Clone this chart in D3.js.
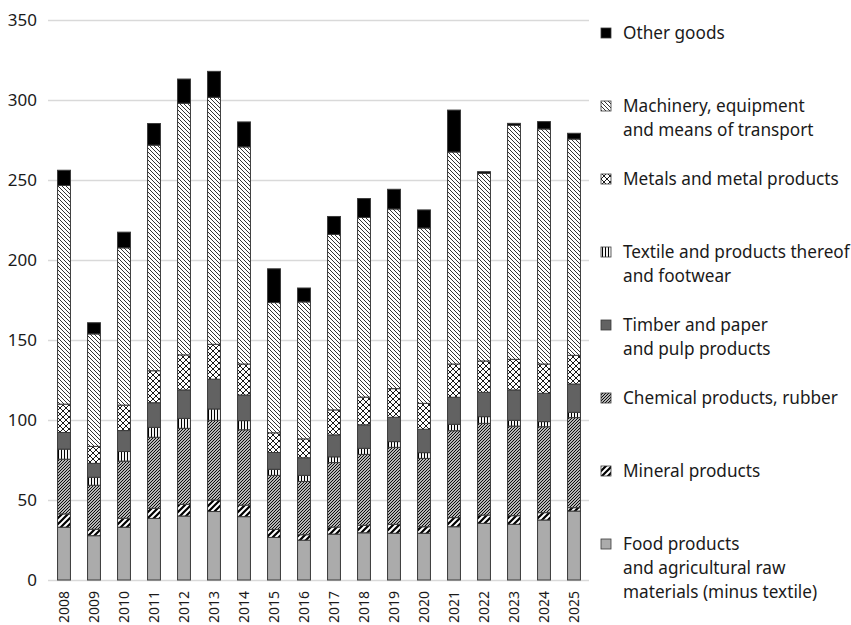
<!DOCTYPE html>
<html>
<head>
<meta charset="utf-8">
<script src="https://cdn.jsdelivr.net/npm/d3@7"></script>
<style>
  body { margin: 0; background: #fff; }
  text { font-family: "Noto Sans", sans-serif; fill: #1a1a1a; }
</style>
</head>
<body>
<svg id="chart" width="851" height="625"></svg>
<script>
const years = ["2008","2009","2010","2011","2012","2013","2014","2015","2016","2017","2018","2019","2020","2021","2022","2023","2024","2025"];

const food      = [33.0, 27.7, 33.0, 38.5, 40.0, 42.8, 39.6, 26.6, 24.9, 28.7, 29.5, 29.2, 29.2, 33.3, 35.4, 34.8, 37.5, 43.1];
const mineral   = [8.3, 4.0, 5.6, 6.3, 7.3, 7.2, 7.2, 5.0, 3.4, 4.4, 4.7, 5.6, 4.1, 5.7, 5.2, 5.4, 4.6, 2.1];
const chemical  = [34.2, 27.5, 35.7, 44.4, 47.5, 49.8, 47.1, 33.8, 33.3, 40.3, 44.3, 48.1, 42.7, 54.3, 57.3, 56.0, 53.7, 56.3];
const textile   = [6.3, 5.0, 6.0, 6.2, 6.2, 7.1, 5.7, 3.8, 3.8, 3.6, 3.8, 3.6, 3.6, 4.0, 4.2, 3.6, 3.2, 3.3];
const timber    = [10.4, 8.7, 13.1, 15.4, 17.8, 18.6, 16.0, 10.5, 11.0, 13.7, 14.7, 15.2, 14.6, 16.9, 15.2, 19.0, 17.7, 17.7];
const metals    = [17.7, 10.6, 15.9, 20.0, 21.9, 21.8, 19.4, 12.3, 11.8, 15.6, 17.3, 17.9, 16.2, 20.8, 19.6, 19.1, 18.3, 17.9];
const machinery = [136.7, 70.3, 98.3, 141.0, 157.3, 154.4, 135.7, 81.4, 85.6, 109.7, 112.3, 112.3, 109.6, 132.5, 117.3, 146.3, 146.9, 135.2];
const other     = [9.5, 7.0, 9.8, 13.5, 15.1, 16.2, 15.6, 21.1, 8.7, 11.2, 11.8, 12.3, 11.3, 26.2, 1.0, 1.2, 4.6, 3.6];

const yTicks = [0, 50, 100, 150, 200, 250, 300, 350];

// bottom to top
const seriesKeys = ["food","mineral","chemical","textile","timber","metals","machinery","other"];
const seriesData = {food, mineral, chemical, textile, timber, metals, machinery, other};

// legend, top to bottom
const legendKeys = ["other","machinery","metals","textile","timber","chemical","mineral","food"];
const legendLabels = {
  other: ["Other goods"],
  machinery: ["Machinery, equipment", "and means of transport"],
  metals: ["Metals and metal products"],
  textile: ["Textile and products thereof", "and footwear"],
  timber: ["Timber and paper", "and pulp products"],
  chemical: ["Chemical products, rubber"],
  mineral: ["Mineral products"],
  food: ["Food products", "and agricultural raw", "materials (minus textile)"]
};

const svg = d3.select("#chart");
const margin = {top: 20, left: 49, right: 589, bottom: 580};

let table = years.map(function(y, i) {
  let row = {year: y};
  seriesKeys.forEach(function(k) { row[k] = seriesData[k][i]; });
  return row;
});

let stacked = d3.stack().keys(seriesKeys)(table);

let x = d3.scaleBand().domain(years).range([margin.left, margin.right]).paddingInner(0.57).paddingOuter(0.285);
let y = d3.scaleLinear().domain([0, 350]).range([margin.bottom, margin.top]);

// patterns
let defs = svg.append("defs");

function hatch(id, size, d, strokeW, bg) {
  let p = defs.append("pattern")
    .attr("id", id)
    .attr("patternUnits", "userSpaceOnUse")
    .attr("width", size).attr("height", size);
  p.append("rect").attr("width", size).attr("height", size).attr("fill", bg || "#fff");
  p.append("path").attr("d", d).attr("stroke", "#000").attr("stroke-width", strokeW).attr("fill", "none");
}

// "\" lines
hatch("p-machinery", 4, "M-1,-1L5,5M-1,3L1,5M3,-1L5,1", 0.8);
// diagonal cross
hatch("p-metals", 6, "M-1,-1L7,7M-1,7L7,-1", 0.9);
// vertical lines
hatch("p-textile", 3, "M1.5,0V3", 1.1);
// dense "/" lines
hatch("p-chemical", 3, "M-1,1L1,-1M0,3L3,0M2,4L4,2", 1.1);
// wide "/" stripes
hatch("p-mineral", 6, "M-1.5,1.5L1.5,-1.5M0,6L6,0M4.5,7.5L7.5,4.5", 2.2);

const fills = {
  food: "#ababab",
  mineral: "url(#p-mineral)",
  chemical: "url(#p-chemical)",
  textile: "url(#p-textile)",
  timber: "#626262",
  metals: "url(#p-metals)",
  machinery: "url(#p-machinery)",
  other: "#000"
};

// gridlines
svg.append("g").selectAll("line")
  .data(yTicks)
  .enter().append("line")
  .attr("x1", 48).attr("x2", margin.right)
  .attr("y1", function(d) { return Math.round(y(d)) + 0.5; })
  .attr("y2", function(d) { return Math.round(y(d)) + 0.5; })
  .attr("stroke", "#d9d9d9")
  .attr("stroke-width", 1.5);

// y labels
svg.append("g").selectAll("text")
  .data(yTicks)
  .enter().append("text")
  .attr("x", 37)
  .attr("y", function(d) { return y(d); })
  .attr("dy", "0.35em")
  .attr("text-anchor", "end")
  .style("font-size", "17px")
  .text(function(d) { return d; });

// bars
let layers = svg.append("g").selectAll("g")
  .data(stacked)
  .enter().append("g")
  .attr("fill", function(d) { return fills[d.key]; });

layers.selectAll("rect")
  .data(function(d) { return d; })
  .enter().append("rect")
  .attr("x", function(d) { return x(d.data.year); })
  .attr("width", x.bandwidth())
  .attr("y", function(d) { return y(d[1]); })
  .attr("height", function(d) { return y(d[0]) - y(d[1]); })
  .attr("stroke", "#3a3a3a")
  .attr("stroke-width", 1);

// x labels
svg.append("g").selectAll("text")
  .data(years)
  .enter().append("text")
  .attr("transform", function(d) {
    return "translate(" + (x(d) + x.bandwidth() / 2) + "," + 591 + ") rotate(-90)";
  })
  .attr("dy", "0.35em")
  .attr("text-anchor", "end")
  .style("font-size", "14px")
  .text(function(d) { return d; });

// legend
let legend = svg.append("g").selectAll("g")
  .data(legendKeys)
  .enter().append("g")
  .attr("transform", function(d, i) { return "translate(601," + (33 + i * 73) + ")"; });

legend.append("rect")
  .attr("x", 0).attr("y", -5)
  .attr("width", 10).attr("height", 10)
  .attr("fill", function(d) { return fills[d]; })
  .attr("stroke", "#3a3a3a")
  .attr("stroke-width", 0.8);

legend.append("text")
  .attr("x", 22)
  .style("font-size", "17.2px")
  .selectAll("tspan")
  .data(function(d) { return legendLabels[d]; })
  .enter().append("tspan")
  .attr("x", 22)
  .attr("y", function(d, i) { return i * 24; })
  .attr("dy", "0.35em")
  .text(function(d) { return d; });
</script>
</body>
</html>
